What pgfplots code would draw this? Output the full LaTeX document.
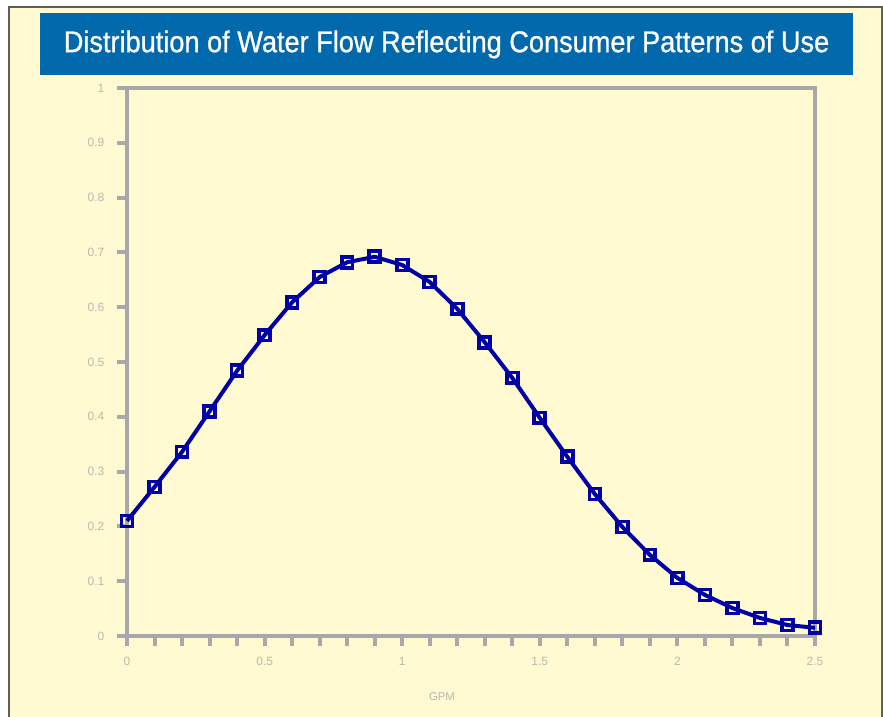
\documentclass[border=0pt]{standalone}
\usepackage{pgfplots}
\pgfplotsset{compat=1.18}
\usepackage{fontspec}
\setmainfont{Liberation Sans}
\newfontfamily\titlefont[FakeStretch=0.905,FakeBold=0.8]{Liberation Sans}
\definecolor{bgyellow}{RGB}{255,250,210}
\definecolor{titleblue}{RGB}{3,105,173}
\definecolor{axisgray}{RGB}{168,168,168}
\definecolor{labelgray}{RGB}{185,185,175}
\definecolor{bordergray}{RGB}{95,95,85}
\definecolor{lineblue}{RGB}{0,0,165}
\pgfplotstableread{
x y
0.0 0.210
0.1 0.272
0.2 0.336
0.3 0.410
0.4 0.484
0.5 0.549
0.6 0.609
0.7 0.655
0.8 0.682
0.9 0.692
1.0 0.677
1.1 0.646
1.2 0.597
1.3 0.536
1.4 0.471
1.5 0.398
1.6 0.327
1.7 0.259
1.8 0.199
1.9 0.148
2.0 0.106
2.1 0.075
2.2 0.051
2.3 0.033
2.4 0.020
2.5 0.015
}\flowdata
\begin{document}
\begin{tikzpicture}[x=1pt,y=1pt]
\useasboundingbox (0,0) rectangle (662.25,-537.75);
\fill[white] (0,0) rectangle (662.25,-537.75);
\fill[bgyellow] (6.75,-5.25) rectangle (661.5,-545);
\draw[bordergray,line width=1.2pt] (6.75,-545) -- (6.75,-5.25) -- (661.5,-5.25) -- (661.5,-545);
\fill[titleblue] (30,-9.75) rectangle (639.75,-56.25);
\node[text=white,font=\titlefont\fontsize{22.5}{26}\selectfont] at (334.9,-33.3) {Distribution of Water Flow Reflecting Consumer Patterns of Use};
\begin{axis}[
  at={(95.25pt,-477pt)}, anchor=south west,
  scale only axis, width=516pt, height=411pt,
  xmin=0, xmax=2.5, ymin=0, ymax=1,
  clip=false,
  axis line style={axisgray, line width=3pt},
  tick align=outside,
  xtick pos=bottom, ytick pos=left,
  xtick={0,0.5,1,1.5,2,2.5},
  xticklabels={0,0.5,1,1.5,2,2.5},
  minor xtick={0.1,0.2,0.3,0.4,0.6,0.7,0.8,0.9,1.1,1.2,1.3,1.4,1.6,1.7,1.8,1.9,2.1,2.2,2.3,2.4},
  ytick={0,0.1,0.2,0.3,0.4,0.5,0.6,0.7,0.8,0.9,1},
  yticklabels={0,0.1,0.2,0.3,0.4,0.5,0.6,0.7,0.8,0.9,1},
  major tick length=7.5pt, minor tick length=7.5pt,
  every tick/.style={axisgray, line width=3pt},
  minor tick style={axisgray, line width=3pt},
  major tick style={axisgray, line width=3pt},
  tick label style={font=\fontsize{9}{10}\selectfont, text=labelgray},
  /pgf/number format/assume math mode=true,
  xticklabel style={yshift=-5pt},
  yticklabel style={xshift=-6pt},
]
\addplot[lineblue, line width=3pt, mark=square, mark size=4.1pt, mark options={line width=2.8pt, fill=none}] table[x=x,y=y] {\flowdata};
\end{axis}
\node[text=labelgray,font=\fontsize{8.5}{10}\selectfont] at (331.5,-522.75) {GPM};
\end{tikzpicture}
\end{document}
